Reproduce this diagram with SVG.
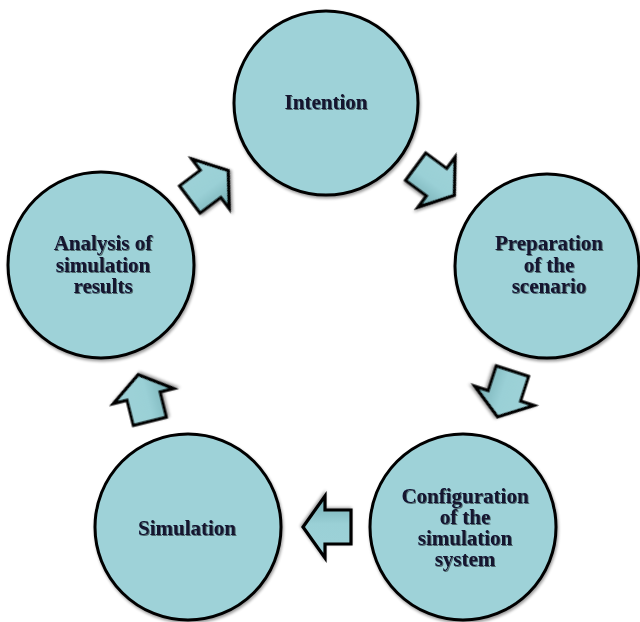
<svg xmlns="http://www.w3.org/2000/svg" width="640" height="622" viewBox="0 0 640 622">
  <defs>
    <style>
      .node circle { fill: #9ed2d8; stroke: #000; stroke-width: 3; filter: url(#soft); }
      .node text { font-family: "Liberation Serif", "Times New Roman", serif; font-weight: bold; font-size: 21px; fill: #12122e; text-anchor: middle; filter: url(#txtshadow); }
      .arrow { fill: url(#arrowShade); stroke: #000; stroke-width: 3.2; stroke-linejoin: miter; filter: url(#soft); }
    </style>
    <filter id="soft" x="-10%" y="-10%" width="125%" height="125%">
      <feGaussianBlur in="SourceAlpha" stdDeviation="1.5"/>
      <feOffset dx="1" dy="1.5" result="b"/>
      <feComponentTransfer in="b" result="sh"><feFuncA type="linear" slope="0.4"/></feComponentTransfer>
      <feMerge><feMergeNode in="sh"/><feMergeNode in="SourceGraphic"/></feMerge>
    </filter>
    <filter id="txtshadow" x="-10%" y="-20%" width="120%" height="150%">
      <feGaussianBlur in="SourceAlpha" stdDeviation="0.6"/>
      <feOffset dx="1" dy="1" result="b"/>
      <feComponentTransfer in="b" result="sh"><feFuncA type="linear" slope="0.5"/></feComponentTransfer>
      <feMerge><feMergeNode in="sh"/><feMergeNode in="SourceGraphic"/></feMerge>
    </filter>
    <!-- shading across the arrow body, darker towards the lower edge -->
    <linearGradient id="arrowShade" x1="0" y1="0" x2="0" y2="1">
      <stop offset="0" stop-color="#9ed2d8"/>
      <stop offset="0.55" stop-color="#9ad0d6"/>
      <stop offset="0.85" stop-color="#7fb7bd"/>
      <stop offset="1" stop-color="#4f8a90"/>
    </linearGradient>
    <!-- block arrow pointing along +x, centred on the origin -->
    <polygon id="blockArrow" class="arrow" points="-24,-17 2,-17 2,-31 24,0 2,31 2,17 -24,17"/>
  </defs>

  <g id="connectors">
    <use href="#blockArrow" transform="translate(435,181) rotate(36.5)"/>
    <use href="#blockArrow" transform="translate(505,394) rotate(108)"/>
    <use href="#blockArrow" transform="translate(327,527) rotate(180)"/>
    <use href="#blockArrow" transform="translate(144,398) rotate(-104)"/>
    <use href="#blockArrow" transform="translate(209,185) rotate(-37)"/>
  </g>

  <g id="intention" class="node">
    <circle cx="326" cy="103" r="92"/>
    <text x="326" y="109">Intention</text>
  </g>

  <g id="preparation" class="node">
    <circle cx="547" cy="266" r="92"/>
    <text x="549" y="250">Preparation</text>
    <text x="549" y="272">of the</text>
    <text x="549" y="293">scenario</text>
  </g>

  <g id="configuration" class="node">
    <circle cx="463" cy="527" r="93"/>
    <text x="465" y="503">Configuration</text>
    <text x="465" y="524">of the</text>
    <text x="465" y="545">simulation</text>
    <text x="465" y="566">system</text>
  </g>

  <g id="simulation" class="node">
    <circle cx="188" cy="527" r="93"/>
    <text x="187" y="535">Simulation</text>
  </g>

  <g id="analysis" class="node">
    <circle cx="101" cy="265" r="93"/>
    <text x="103" y="250">Analysis of</text>
    <text x="103" y="272">simulation</text>
    <text x="103" y="293">results</text>
  </g>
</svg>
